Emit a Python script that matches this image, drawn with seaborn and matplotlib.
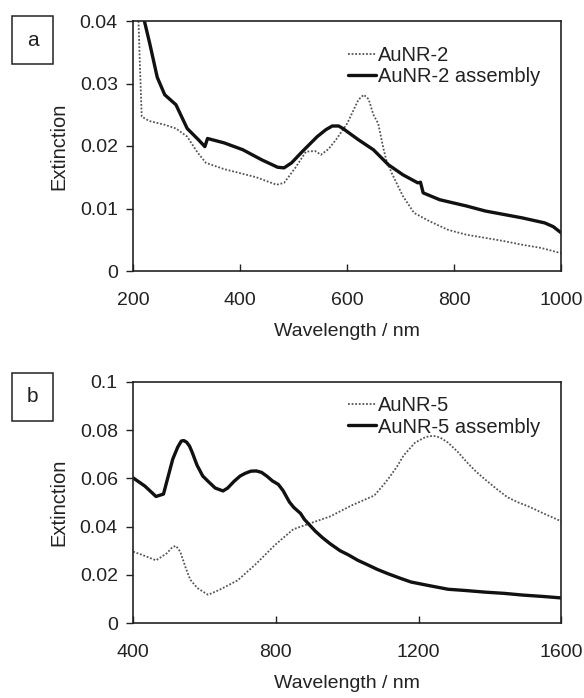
import numpy as np
import pandas as pd
import matplotlib
matplotlib.use("Agg")
import matplotlib.pyplot as plt
import seaborn as sns

# panel a: AuNR-2 spectra
wl_a_rod = [210, 213, 216, 230, 259, 280, 301, 320, 336, 370, 398, 430, 468, 482, 503, 523,
            540, 551, 565, 579, 600, 621, 631, 640, 649, 658, 663, 668, 673, 683, 704, 725,
            753, 788, 823, 858, 892, 927, 962, 993, 1000]
ext_a_rod = [0.040, 0.032, 0.0247, 0.0240, 0.0234, 0.0228, 0.0215, 0.0190, 0.0173, 0.0163, 0.0157,
             0.0150, 0.0138, 0.0141, 0.0165, 0.0191, 0.0192, 0.0186, 0.0195, 0.0210, 0.0236,
             0.0274, 0.0282, 0.0275, 0.0250, 0.0236, 0.0215, 0.0195, 0.0178, 0.0157, 0.0120,
             0.0093, 0.0080, 0.0066, 0.0058, 0.0053, 0.0048, 0.0042, 0.0037, 0.0030, 0.0029]

wl_a_asm = [221, 231, 245, 259, 280, 301, 322, 334, 339, 370, 405, 440, 470, 482, 496, 516,
            544, 560, 572, 584, 592, 621, 649, 677, 704, 732, 737, 742, 773, 823, 858, 927,
            969, 985, 1000]
ext_a_asm = [0.0400, 0.0364, 0.0310, 0.0282, 0.0266, 0.0228, 0.0210, 0.0199, 0.0212, 0.0205,
             0.0194, 0.0178, 0.0166, 0.0165, 0.0173, 0.0191, 0.0215, 0.0226, 0.0232, 0.0232,
             0.0228, 0.0210, 0.0194, 0.0170, 0.0154, 0.0141, 0.0142, 0.0125, 0.0114, 0.0104,
             0.0096, 0.0085, 0.0077, 0.0071, 0.0061]

# panel b: AuNR-5 spectra
wl_b_rod = [400, 430, 464, 480, 495, 510, 520, 532, 547, 560, 580, 610, 641, 693, 745, 797,
            849, 901, 952, 1014, 1076, 1100, 1117, 1140, 1158, 1190, 1220, 1241, 1260, 1283,
            1310, 1335, 1360, 1387, 1420, 1449, 1480, 1511, 1550, 1600]
ext_b_rod = [0.0296, 0.0280, 0.0260, 0.0275, 0.0290, 0.0315, 0.0320, 0.0296, 0.0230, 0.0180,
             0.0145, 0.0117, 0.0137, 0.0177, 0.0246, 0.0323, 0.0389, 0.0416, 0.0442, 0.0489,
             0.0529, 0.0570, 0.0602, 0.0650, 0.0695, 0.0748, 0.0772, 0.0777, 0.0770, 0.0748,
             0.0710, 0.0668, 0.0630, 0.0595, 0.0555, 0.0522, 0.0500, 0.0482, 0.0455, 0.0422]

wl_b_asm = [400, 433, 464, 485, 511, 525, 535, 542, 550, 558, 565, 579, 595, 610, 630, 652,
            665, 683, 700, 714, 730, 745, 760, 776, 790, 807, 820, 838, 850, 869, 880, 910,
            930, 952, 980, 1003, 1030, 1055, 1085, 1117, 1150, 1179, 1230, 1283, 1330, 1387,
            1440, 1491, 1550, 1600]
ext_b_asm = [0.0602, 0.0568, 0.0525, 0.0535, 0.0680, 0.0730, 0.0755, 0.0757, 0.0750, 0.0734,
             0.0710, 0.0655, 0.0610, 0.0588, 0.0560, 0.0548, 0.0560, 0.0588, 0.0610, 0.0621,
             0.0630, 0.0631, 0.0625, 0.0608, 0.0590, 0.0575, 0.0550, 0.0502, 0.0480, 0.0455,
             0.0430, 0.0382, 0.0355, 0.0329, 0.0300, 0.0283, 0.0260, 0.0243, 0.0222, 0.0203,
             0.0185, 0.0170, 0.0155, 0.0140, 0.0135, 0.0128, 0.0123, 0.0116, 0.0110, 0.0104]

xticks_a = [200, 400, 600, 800, 1000]
yticks_a = [0, 0.01, 0.02, 0.03, 0.04]
yticklabels_a = ["0", "0.01", "0.02", "0.03", "0.04"]
xticks_b = [400, 800, 1200, 1600]
yticks_b = [0, 0.02, 0.04, 0.06, 0.08, 0.1]
yticklabels_b = ["0", "0.02", "0.04", "0.06", "0.08", "0.1"]

sns.set_style("ticks")
plt.rcParams['font.family'] = ['Liberation Sans', 'DejaVu Sans']

fig = plt.figure(figsize=(5.84, 6.98), dpi=100)
ax_a = fig.add_axes([0.228, 1 - 271 / 698, 0.733, 250 / 698])
ax_b = fig.add_axes([0.228, 1 - 623 / 698, 0.733, 241 / 698])


def draw_panel(ax, wl_rod, ext_rod, wl_asm, ext_asm, name, xlim, ylim, xticks, yticks,
               yticklabels, letter, ypos, leg_y):
    df_rod = pd.DataFrame({"wl": wl_rod, "ext": ext_rod})
    df_asm = pd.DataFrame({"wl": wl_asm, "ext": ext_asm})
    sns.lineplot(data=df_rod, x="wl", y="ext", ax=ax, color="#555555", lw=1.3,
                 linestyle=(0, (1, 1)), label=name, sort=False)
    sns.lineplot(data=df_asm, x="wl", y="ext", ax=ax, color="#111111", lw=2.4,
                 label=name + " assembly", sort=False)
    ax.set_xlim(xlim)
    ax.set_ylim(ylim)
    ax.set_xticks(xticks)
    ax.set_xticklabels([str(t) for t in xticks])
    ax.set_yticks(yticks)
    ax.set_yticklabels(yticklabels)
    ax.tick_params(axis="x", direction="in", length=5, width=1, labelsize=14, pad=15, colors="#222222")
    ax.tick_params(axis="y", direction="out", length=5, width=1, labelsize=14, pad=6, colors="#222222")
    for s in ax.spines.values():
        s.set_linewidth(1.2)
        s.set_color("#222222")
        s.set_visible(True)
    ax.set_xlabel("Wavelength / nm", fontsize=14, color="#222222", labelpad=10)
    ax.set_ylabel("Extinction", fontsize=14.5, color="#222222", labelpad=8)
    leg = ax.legend(loc="upper right", bbox_to_anchor=(0.98, leg_y), frameon=False, fontsize=14.5,
                    handlelength=1.4, handletextpad=0.1, labelspacing=0.1, borderaxespad=0.2)
    for t in leg.get_texts():
        t.set_color("#222222")
    fig.text(0.056, ypos, letter, fontsize=15, ha="center", va="center", color="#222222",
             bbox=dict(boxstyle="square,pad=0.7", fc="white", ec="#222222", lw=1.1))


draw_panel(ax_a, wl_a_rod, ext_a_rod, wl_a_asm, ext_a_asm, "AuNR-2", (200, 1000), (0, 0.04),
           xticks_a, yticks_a, yticklabels_a, "a", 1 - 40 / 698, 0.95)
draw_panel(ax_b, wl_b_rod, ext_b_rod, wl_b_asm, ext_b_asm, "AuNR-5", (400, 1600), (0, 0.1),
           xticks_b, yticks_b, yticklabels_b, "b", 1 - 397 / 698, 0.99)

fig.savefig("out.png", dpi=100)
